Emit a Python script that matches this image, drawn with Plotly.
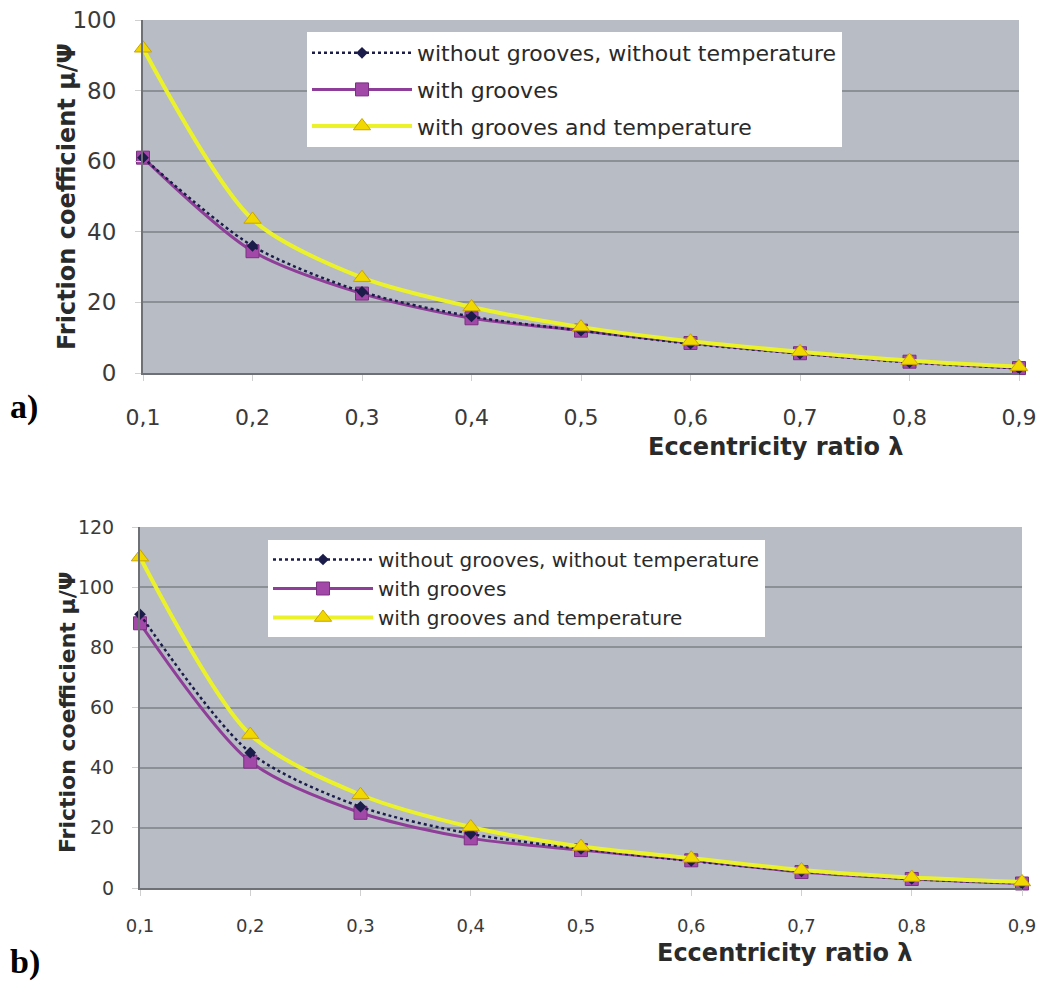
import plotly.graph_objects as go

x_vals = [0.1, 0.2, 0.3, 0.4, 0.5, 0.6, 0.7, 0.8, 0.9]
x_ticktext = ["0,1", "0,2", "0,3", "0,4", "0,5", "0,6", "0,7", "0,8", "0,9"]

# panel a)
a_without = [61, 36, 23, 16, 12, 8.3, 5.5, 3.0, 1.3]
a_grooves = [61, 34.5, 22.5, 15.5, 12, 8.5, 5.6, 3.2, 1.4]
a_grooves_temp = [92, 43.5, 27, 18.7, 13, 9, 6, 3.5, 1.8]
a_yticks = [0, 20, 40, 60, 80, 100]

# panel b)
b_without = [91, 45, 27, 18, 13, 9, 5.5, 3.0, 1.5]
b_grooves = [88, 42, 25, 16.5, 12.6, 9.2, 5.3, 3.0, 1.5]
b_grooves_temp = [110, 51, 31, 20.3, 13.8, 9.9, 6, 3.5, 2]
b_yticks = [0, 20, 40, 60, 80, 100, 120]

names = ["without grooves, without temperature", "with grooves",
         "with grooves and temperature"]

NAVY = "#1c1c4a"
PURPLE = "#8e3e98"
SQ = "#a248a8"
YEL = "#ecf22a"
TRI = "#f0d800"
BG = "#b8bdc5"
GRID = "#8b9096"
FONT = "DejaVu Sans, Liberation Sans, Arial, sans-serif"
TXT = "#2a2a2a"
TICK = "#3a3a3a"

fig = go.Figure()

def add_panel(xa, ya, leg, without, grooves, temp):
    fig.add_trace(go.Scatter(
        x=x_vals, y=grooves, name=names[1], xaxis=xa, yaxis=ya, legend=leg,
        legendrank=2, legendgroup=leg + "g2", mode="lines+markers",
        line=dict(color=PURPLE, width=3, shape="spline", smoothing=0.8),
        marker=dict(symbol="square", size=13, color=SQ,
                    line=dict(color="#7a3080", width=1)),
        cliponaxis=False))
    fig.add_trace(go.Scatter(
        x=x_vals, y=without, name=names[0], xaxis=xa, yaxis=ya, legend=leg,
        legendrank=1, legendgroup=leg + "g1", mode="lines+markers",
        line=dict(color=NAVY, width=2.5, dash="dot", shape="spline", smoothing=0.8),
        marker=dict(symbol="diamond", size=9, color=NAVY),
        cliponaxis=False))
    fig.add_trace(go.Scatter(
        x=x_vals, y=temp, name=names[2], xaxis=xa, yaxis=ya, legend=leg,
        legendrank=3, legendgroup=leg + "g3", mode="lines+markers",
        line=dict(color=YEL, width=4, shape="spline", smoothing=0.8),
        marker=dict(symbol="triangle-up", size=15, color=TRI,
                    line=dict(color="#c8a400", width=1)),
        cliponaxis=False))

add_panel("x", "y", "legend", a_without, a_grooves, a_grooves_temp)
add_panel("x2", "y2", "legend2", b_without, b_grooves, b_grooves_temp)

W, H = 1044, 983

def px_x(p):
    return p / W

def px_y(p):
    return 1 - p / H

axis_common = dict(showline=True, linecolor="#6d7075", linewidth=2,
                   zeroline=False, mirror=False, automargin=False)

fig.update_layout(
    width=W, height=H, margin=dict(l=0, r=0, t=0, b=0, autoexpand=False),
    paper_bgcolor="white", plot_bgcolor=BG,
    font=dict(family=FONT, color=TXT),
    xaxis=dict(domain=[px_x(143), px_x(1019)], anchor="y", range=[0.1, 0.9],
               tickvals=x_vals, ticktext=x_ticktext, showgrid=False,
               tickfont=dict(size=22, color=TICK), ticks="outside",
               ticklen=6, tickcolor="#d0d0d0", ticklabelstandoff=18,
               **axis_common),
    yaxis=dict(domain=[px_y(373), px_y(20)], anchor="x", range=[0, 100],
               tickvals=a_yticks, showgrid=True, gridcolor=GRID, gridwidth=2,
               tickfont=dict(size=23, color=TICK), ticks="outside",
               ticklen=6, tickcolor="#d0d0d0", ticklabelstandoff=14,
               **axis_common),
    xaxis2=dict(domain=[px_x(140), px_x(1022)], anchor="y2", range=[0.1, 0.9],
                tickvals=x_vals, ticktext=x_ticktext, showgrid=False,
                tickfont=dict(size=18, color=TICK), ticks="outside",
                ticklen=6, tickcolor="#d0d0d0", ticklabelstandoff=14,
                **axis_common),
    yaxis2=dict(domain=[px_y(888), px_y(527)], anchor="x2", range=[0, 120],
                tickvals=b_yticks, showgrid=True, gridcolor=GRID, gridwidth=2,
                tickfont=dict(size=19, color=TICK), ticks="outside",
                ticklen=6, tickcolor="#d0d0d0", ticklabelstandoff=14,
                **axis_common),
    legend=dict(x=px_x(307), y=px_y(32), xanchor="left", yanchor="top",
                bgcolor="white", borderwidth=0, itemwidth=100,
                tracegroupgap=5, font=dict(size=22, color=TXT),
                traceorder="grouped"),
    legend2=dict(x=px_x(268), y=px_y(540), xanchor="left", yanchor="top",
                 bgcolor="white", borderwidth=0, itemwidth=100,
                 tracegroupgap=0, font=dict(size=20, color=TXT),
                 traceorder="grouped"),
    showlegend=True,
)

ann = []
# axis titles
ann.append(dict(text="<b>Eccentricity ratio λ</b>", x=px_x(775), y=px_y(447),
                xref="paper", yref="paper", showarrow=False,
                xanchor="center", yanchor="middle",
                font=dict(size=24, color=TXT)))
ann.append(dict(text="<b>Eccentricity ratio λ</b>", x=px_x(784), y=px_y(953),
                xref="paper", yref="paper", showarrow=False,
                xanchor="center", yanchor="middle",
                font=dict(size=24, color=TXT)))
ann.append(dict(text="<b>Friction coefficient μ/Ψ</b>", x=px_x(67),
                y=px_y(197), xref="paper", yref="paper", showarrow=False,
                xanchor="center", yanchor="middle",
                textangle=-90, font=dict(size=24, color=TXT)))
ann.append(dict(text="<b>Friction coefficient μ/Ψ</b>", x=px_x(67),
                y=px_y(713), xref="paper", yref="paper", showarrow=False,
                xanchor="center", yanchor="middle",
                textangle=-90, font=dict(size=22, color=TXT)))
# panel labels
ann.append(dict(text="<b>a)</b>", x=px_x(8), y=px_y(407), xref="paper",
                yref="paper", showarrow=False, xanchor="left",
                yanchor="middle",
                font=dict(size=34, color="black",
                          family="Liberation Serif, Times New Roman, serif")))
ann.append(dict(text="<b>b)</b>", x=px_x(8), y=px_y(962), xref="paper",
                yref="paper", showarrow=False, xanchor="left",
                yanchor="middle",
                font=dict(size=34, color="black",
                          family="Liberation Serif, Times New Roman, serif")))
fig.update_layout(annotations=ann)

fig.write_html("out.html",
               config={"displayModeBar": False},
               post_script="document.body.style.margin='0';"
                           "document.body.style.overflow='hidden';")
